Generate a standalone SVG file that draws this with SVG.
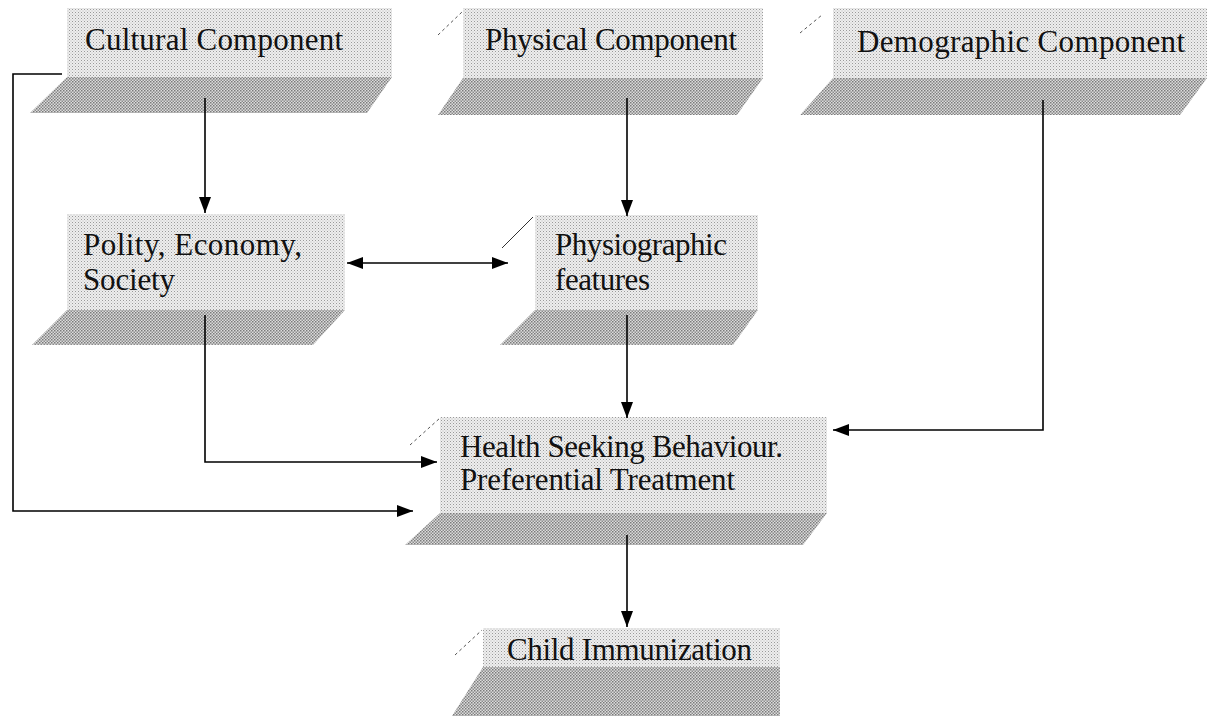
<svg xmlns="http://www.w3.org/2000/svg" width="1212" height="716" viewBox="0 0 1212 716">
<style>
.front{fill:url(#lightDots);}
.base{fill:url(#darkDots);}
.edge{stroke:#555;stroke-width:1;stroke-dasharray:3 3;fill:none;}
.lbl{font-family:'Liberation Serif', 'Times New Roman', serif;font-size:31px;fill:#111;}
.con{stroke:#000;stroke-width:1.6;fill:none;}
</style>
<defs>
<pattern id="lightDots" width="3" height="3" patternUnits="userSpaceOnUse">
<rect width="3" height="3" fill="#eeeeee"/>
<rect x="0" y="0" width="1" height="1" fill="#9a9a9a"/>
<rect x="1.5" y="1.5" width="1" height="1" fill="#bbbbbb"/>
</pattern>
<pattern id="darkDots" width="3" height="3" patternUnits="userSpaceOnUse">
<rect width="3" height="3" fill="#dcdcdc"/>
<rect x="0" y="0" width="1.5" height="1.5" fill="#7a7a7a"/>
<rect x="1.5" y="1.5" width="1.5" height="1.5" fill="#8c8c8c"/>
</pattern>
<marker id="arr" viewBox="0 0 16 12" refX="16" refY="6" markerWidth="16" markerHeight="12" markerUnits="userSpaceOnUse" orient="auto-start-reverse">
<path d="M0,0 L16,6 L0,12 Z" fill="#000"/>
</marker>
</defs>

<g id="cultural">
<rect class="front" x="67" y="8" width="325" height="70"/>
<polygon class="base" points="67,77 392,77 367,113 30,113"/>
<text class="lbl" x="85" y="50" textLength="258" lengthAdjust="spacing">Cultural Component</text>
</g>

<g id="physical">
<line class="edge" x1="438" y1="35" x2="462" y2="12"/>
<rect class="front" x="463" y="8" width="300" height="70"/>
<polygon class="base" points="463,78 763,78 737,115 438,115"/>
<text class="lbl" x="485" y="50" textLength="252" lengthAdjust="spacing">Physical Component</text>
</g>

<g id="demographic">
<line class="edge" x1="800" y1="33" x2="822" y2="15"/>
<rect class="front" x="833" y="8" width="374" height="70"/>
<polygon class="base" points="833,78 1207,78 1180,115 800,115"/>
<text class="lbl" x="857" y="52" textLength="328" lengthAdjust="spacing">Demographic Component</text>
</g>

<g id="polity">
<rect class="front" x="67" y="214" width="278" height="96"/>
<polygon class="base" points="67,310 345,310 313,345 32,345"/>
<text class="lbl" x="83" y="255" textLength="219" lengthAdjust="spacing">Polity, Economy,</text>
<text class="lbl" x="83" y="290" textLength="92" lengthAdjust="spacing">Society</text>
</g>

<g id="physiographic">
<line x1="502" y1="248" x2="533" y2="217" stroke="#333" stroke-width="1"/>
<rect class="front" x="535" y="215" width="223" height="95"/>
<polygon class="base" points="535,310 758,310 733,345 500,345"/>
<text class="lbl" x="555" y="255" textLength="172" lengthAdjust="spacing">Physiographic</text>
<text class="lbl" x="555" y="290" textLength="95" lengthAdjust="spacing">features</text>
</g>

<g id="health">
<line class="edge" x1="410" y1="445" x2="440" y2="418"/>
<rect class="front" x="440" y="417" width="387" height="96"/>
<polygon class="base" points="440,513 827,513 803,545 405,545"/>
<text class="lbl" x="460" y="457" textLength="323" lengthAdjust="spacing">Health Seeking Behaviour.</text>
<text class="lbl" x="460" y="490" textLength="275" lengthAdjust="spacing">Preferential Treatment</text>
</g>

<g id="child">
<line class="edge" x1="455" y1="655" x2="482" y2="630"/>
<rect class="front" x="483" y="628" width="297" height="40"/>
<polygon class="base" points="483,667 780,667 780,716 452,716"/>
<text class="lbl" x="507" y="660" textLength="245" lengthAdjust="spacing">Child Immunization</text>
</g>

<g id="connectors">
<line class="con" x1="205" y1="98" x2="205" y2="213" marker-end="url(#arr)"/>
<line class="con" x1="627" y1="98" x2="627" y2="216" marker-end="url(#arr)"/>
<polyline class="con" points="1043,100 1043,430 833,430" marker-end="url(#arr)"/>
<line class="con" x1="347" y1="263" x2="508" y2="263" marker-start="url(#arr)" marker-end="url(#arr)"/>
<polyline class="con" points="205,315 205,462 437,462" marker-end="url(#arr)"/>
<line class="con" x1="627" y1="315" x2="627" y2="418" marker-end="url(#arr)"/>
<polyline class="con" points="62,74 13,74 13,511 413,511" marker-end="url(#arr)"/>
<line class="con" x1="627" y1="535" x2="627" y2="627" marker-end="url(#arr)"/>
</g>
</svg>
